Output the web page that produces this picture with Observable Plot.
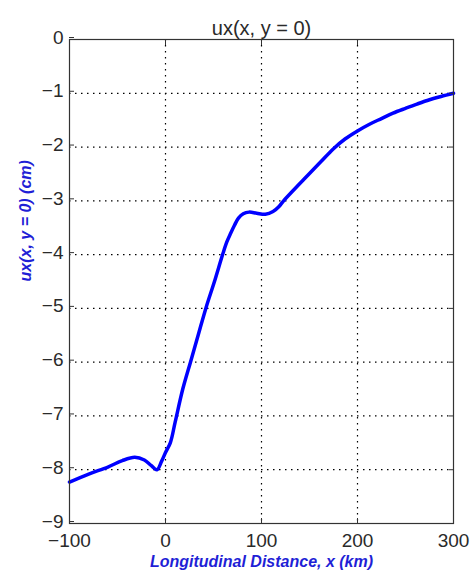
<!DOCTYPE html>
<html><head><meta charset="utf-8">
<script src="https://cdn.jsdelivr.net/npm/d3@7"></script>
<script src="https://cdn.jsdelivr.net/npm/@observablehq/plot@0.6"></script>
<style>body{margin:0;background:#fff}</style>
</head><body><div id="chart"></div>
<script>
const xValues = [-100,-80,-60,-45,-32,-22,-15,-9,-4,0,5,10,18,26,34,42,51,60,64,68,72,76,81,87,95,104,112,118,123,135,148,162,175,187,200,212,225,237,250,262,275,287,300];
const yValues = [-8.23,-8.08,-7.95,-7.83,-7.77,-7.82,-7.92,-8.0,-7.84,-7.68,-7.5,-7.12,-6.5,-6.0,-5.5,-5.0,-4.5,-3.97,-3.76,-3.6,-3.45,-3.32,-3.24,-3.21,-3.23,-3.25,-3.2,-3.11,-3.0,-2.77,-2.53,-2.27,-2.03,-1.85,-1.7,-1.58,-1.47,-1.37,-1.28,-1.2,-1.12,-1.06,-1.0];
const xTicks = [-100,0,100,200,300];
const yTicks = [0,-1,-2,-3,-4,-5,-6,-7,-8,-9];
const titleText = "ux(x, y = 0)";
const xLabel = "Longitudinal Distance, x (km)";
const yLabel = "ux(x, y = 0) (cm)";

const data = xValues.map((x, i) => ({x, y: yValues[i]}));
const gridStyle = {stroke: "#000", strokeOpacity: 1, strokeWidth: 1.2, strokeDasharray: "1.5,4.5"};
const labelBlue = "#1f1fd6";
const fmt = (d) => (d < 0 ? "\u2212" + Math.abs(d) : String(d));

const chart = Plot.plot({
  width: 474, height: 577,
  marginLeft: 69, marginRight: 21, marginTop: 39, marginBottom: 54,
  style: {fontFamily: "'Liberation Sans', Arial, sans-serif", background: "#fff", color: "#2a2a2a"},
  x: {domain: [-100, 300]},
  y: {domain: [-9, 0]},
  marks: [
    Plot.gridX(xTicks.slice(1, -1), gridStyle),
    Plot.gridY(yTicks.slice(1, -1), gridStyle),
    Plot.line(data, {x: "x", y: "y", stroke: "#0000ff", strokeWidth: 3.5, curve: "catmull-rom"}),
    Plot.frame({stroke: "#333", strokeWidth: 1.2}),
    Plot.axisX(xTicks, {anchor: "bottom", tickSize: -5, tickPadding: 15, fontSize: 19, label: null, stroke: "#333", tickFormat: fmt}),
    Plot.axisX(xTicks, {anchor: "top", tickSize: -5, tickFormat: () => "", label: null, stroke: "#333"}),
    Plot.axisY(yTicks, {anchor: "left", tickSize: -5, tickPadding: 11, fontSize: 19, dy: -2, label: null, stroke: "#333", tickFormat: fmt}),
    Plot.axisY(yTicks, {anchor: "right", tickSize: -5, tickFormat: () => "", label: null, stroke: "#333"}),
    Plot.text([titleText], {frameAnchor: "top", dy: -19, fontSize: 20, fill: "#2a2a2a"}),
    Plot.text([xLabel], {frameAnchor: "bottom", dy: 43, fontSize: 16, fontWeight: "bold", fontStyle: "italic", fill: labelBlue}),
    Plot.text([yLabel], {frameAnchor: "left", dx: -44, rotate: -90, fontSize: 16, fontWeight: "bold", fontStyle: "italic", fill: labelBlue})
  ]
});
document.getElementById("chart").appendChild(chart);
</script>
</body></html>
